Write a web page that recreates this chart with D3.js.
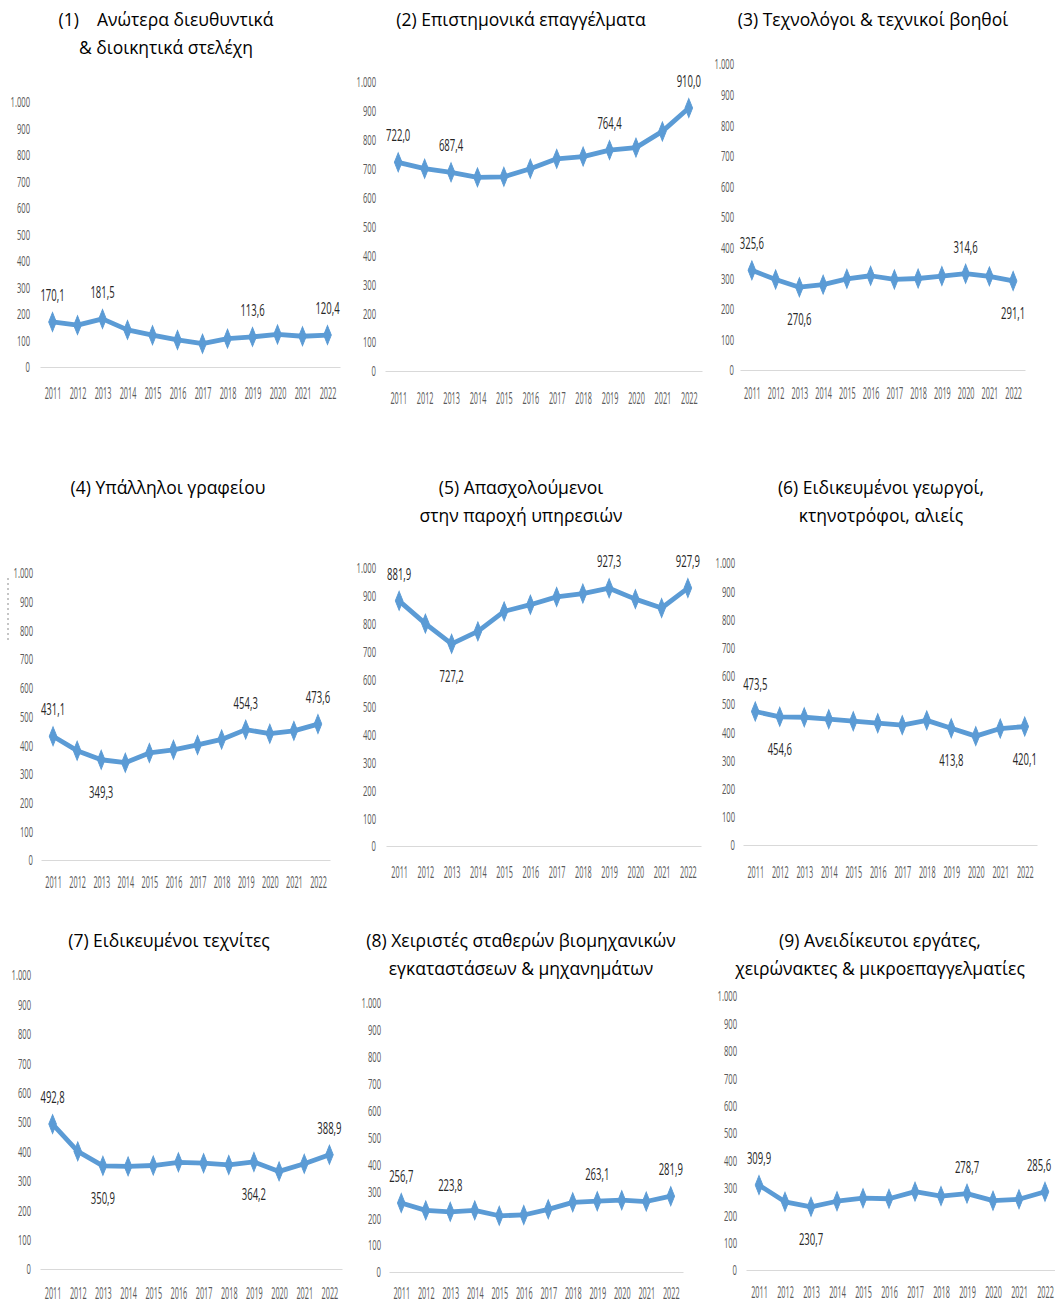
<!DOCTYPE html>
<html>
<head>
<meta charset="utf-8">
<script src="https://cdn.jsdelivr.net/npm/d3@7"></script>
<style>
  body { margin: 0; background: #fff; }
  svg { display: block; }
</style>
</head>
<body>
<svg id="chart"></svg>
<script>
// years on the x axis
const years = [2011, 2012, 2013, 2014, 2015, 2016, 2017, 2018, 2019, 2020, 2021, 2022];
const yTicks = [0, 100, 200, 300, 400, 500, 600, 700, 800, 900, 1000];

const titles = [
    ["(1)    Ανώτερα διευθυντικά", "& διοικητικά στελέχη"],
    ["(2) Επιστημονικά επαγγέλματα"],
    ["(3) Τεχνολόγοι & τεχνικοί βοηθοί"],
    ["(4) Υπάλληλοι γραφείου"],
    ["(5) Απασχολούμενοι", "στην παροχή υπηρεσιών"],
    ["(6) Ειδικευμένοι γεωργοί,", "κτηνοτρόφοι, αλιείς"],
    ["(7) Ειδικευμένοι τεχνίτες"],
    ["(8) Χειριστές σταθερών βιομηχανικών", "εγκαταστάσεων & μηχανημάτων"],
    ["(9) Ανειδίκευτοι εργάτες,", "χειρώνακτες & μικροεπαγγελματίες"]
];

// values (thousands)
const managers      = [170.1, 158, 181.5, 140, 120, 102, 88, 107, 113.6, 123, 116, 120.4];
const professionals = [722.0, 700, 687.4, 670, 672, 700, 734, 742, 764.4, 773, 829, 910.0];
const technicians   = [325.6, 296, 270.6, 279, 298, 308, 296, 299, 307, 314.6, 306, 291.1];
const clerks        = [431.1, 381, 349.3, 339, 373, 384, 401, 420, 454.3, 440, 450, 473.6];
const services      = [881.9, 800, 727.2, 772, 844, 868, 896, 908, 927.3, 888, 856, 927.9];
const farmers       = [473.5, 454.6, 453, 446, 439, 432, 425, 442, 413.8, 386, 413, 420.1];
const craftsmen     = [492.8, 400, 350.9, 349, 352, 363, 360, 354, 364.2, 332, 358, 388.9];
const operators     = [256.7, 229, 223.8, 229, 209, 212, 233, 259, 263.1, 267, 262, 281.9];
const labourers     = [309.9, 249, 230.7, 251, 262, 260, 286, 270, 278.7, 253, 258, 285.6];

const series = [managers, professionals, technicians, clerks, services, farmers, craftsmen, operators, labourers];

// which years carry a value label, and which of those sit under the line
const labelYears = [
    [2011, 2013, 2019, 2022],
    [2011, 2013, 2019, 2022],
    [2011, 2013, 2020, 2022],
    [2011, 2013, 2019, 2022],
    [2011, 2013, 2019, 2022],
    [2011, 2012, 2019, 2022],
    [2011, 2013, 2019, 2022],
    [2011, 2013, 2019, 2022],
    [2011, 2013, 2019, 2022]
];
const labelBelow = [
    [], [], [2013, 2022], [2013], [2013], [2012, 2019, 2022], [2013, 2019], [], [2013]
];

// panel placement on the page
const panels = [
    {left: 40,  right: 340,  zero: 367,  top: 102,  tickX: 30,  yearY: 399,  tx: 166, ty: 26},
    {left: 385, right: 702,  zero: 371,  top: 82,   tickX: 376, yearY: 404,  tx: 521, ty: 26},
    {left: 740, right: 1025, zero: 370,  top: 64,   tickX: 734, yearY: 399,  tx: 873, ty: 26},
    {left: 41,  right: 330,  zero: 860,  top: 573,  tickX: 33,  yearY: 888,  tx: 168, ty: 494},
    {left: 386, right: 701,  zero: 846,  top: 568,  tickX: 376, yearY: 878,  tx: 521, ty: 494},
    {left: 743, right: 1037, zero: 845,  top: 563,  tickX: 735, yearY: 878,  tx: 881, ty: 494},
    {left: 40,  right: 342,  zero: 1269, top: 975,  tickX: 31,  yearY: 1299, tx: 169, ty: 947},
    {left: 389, right: 683,  zero: 1272, top: 1003, tickX: 381, yearY: 1299, tx: 521, ty: 947},
    {left: 746, right: 1058, zero: 1270, top: 996,  tickX: 737, yearY: 1298, tx: 880, ty: 947}
];

const width = 1055, height = 1303;
const blue = "#5b9bd5";
const el = d3.formatLocale({decimal: ",", thousands: ".", grouping: [3], currency: ["", "€"]});
const fmtTick = el.format(",");
const fmtVal = el.format(",.1f");

const svg = d3.select("#chart")
    .attr("width", width)
    .attr("height", height)
    .style("font-family", "'Open Sans', 'Noto Sans', sans-serif");

svg.append("rect").attr("width", width).attr("height", height).attr("fill", "#fff");

// squeeze text horizontally (the source uses a tall narrow face)
function squeeze(sel, k) {
    sel.each(function() {
        const xa = +this.getAttribute("x") || 0;
        this.setAttribute("x", xa / k);
        const t = this.getAttribute("transform") || "";
        this.setAttribute("transform", `${t} scale(${k},1)`);
    });
}

series.forEach((values, p) => {
    const lay = panels[p];
    const g = svg.append("g");

    const x = d3.scalePoint().domain(years).range([lay.left, lay.right]).padding(0.5);
    const y = d3.scaleLinear().domain([0, 1000]).range([lay.zero, lay.top]);

    // title
    const title = g.append("text")
        .attr("x", lay.tx)
        .attr("y", lay.ty)
        .attr("text-anchor", "middle")
        .attr("font-size", "17.5px")
        .attr("fill", "#000")
        .style("white-space", "pre");
    titles[p].forEach((line, i) => {
        title.append("tspan")
            .attr("x", lay.tx)
            .attr("dy", i == 0 ? 0 : 28)
            .text(line);
    });

    // y axis labels only
    const yAxis = g.append("g")
        .attr("transform", `translate(${lay.tickX},0)`)
        .call(d3.axisLeft(y).tickValues(yTicks).tickFormat(fmtTick).tickSize(0).tickPadding(0));
    yAxis.select(".domain").remove();
    yAxis.selectAll("text")
        .attr("font-family", "'Open Sans', sans-serif")
        .attr("font-size", "15px")
        .attr("fill", "#595959");
    squeeze(yAxis.selectAll("text"), 0.51);

    // x axis
    const xAxis = g.append("g")
        .attr("transform", `translate(0,${lay.zero})`)
        .call(d3.axisBottom(x).tickSize(0).tickSizeOuter(0));
    xAxis.select(".domain").attr("stroke", "#d9d9d9").attr("stroke-width", 1.2);
    xAxis.selectAll("text")
        .attr("y", lay.yearY - lay.zero)
        .attr("dy", 0)
        .attr("font-family", "'Open Sans', sans-serif")
        .attr("font-size", "15.5px")
        .attr("fill", "#595959");
    squeeze(xAxis.selectAll("text"), 0.47);

    // line
    const line = d3.line()
        .x((d, i) => x(years[i]))
        .y(d => y(d));
    g.append("path")
        .datum(values)
        .attr("fill", "none")
        .attr("stroke", blue)
        .attr("stroke-width", 4.8)
        .attr("stroke-linejoin", "round")
        .attr("d", line);

    // diamond markers
    g.selectAll(".marker")
        .data(values)
        .enter()
        .append("path")
        .attr("class", "marker")
        .attr("transform", (d, i) => `translate(${x(years[i])},${y(d)}) scale(0.8,1.15)`)
        .attr("d", d3.symbol(d3.symbolDiamond, 80))
        .attr("fill", blue)
        .attr("stroke", blue)
        .attr("stroke-width", 1);

    // value labels, kept inside the page
    const k = 0.56;
    const labels = g.selectAll(".vlabel")
        .data(labelYears[p])
        .enter()
        .append("text")
        .attr("class", "vlabel")
        .attr("x", yr => Math.min(x(yr), width - 16))
        .attr("y", yr => {
            const v = values[years.indexOf(yr)];
            return labelBelow[p].includes(yr) ? y(v) + 38 : y(v) - 21;
        })
        .attr("text-anchor", "middle")
        .attr("font-size", "17px")
        .attr("fill", "#262626")
        .text(yr => fmtVal(values[years.indexOf(yr)]));
    squeeze(labels, k);
});

// faint dashed mark left of panel 4
svg.append("line")
    .attr("x1", 8).attr("x2", 8)
    .attr("y1", 578).attr("y2", 640)
    .attr("stroke", "#8c8c8c")
    .attr("stroke-width", 1)
    .attr("stroke-dasharray", "2,3");
</script>
</body>
</html>
